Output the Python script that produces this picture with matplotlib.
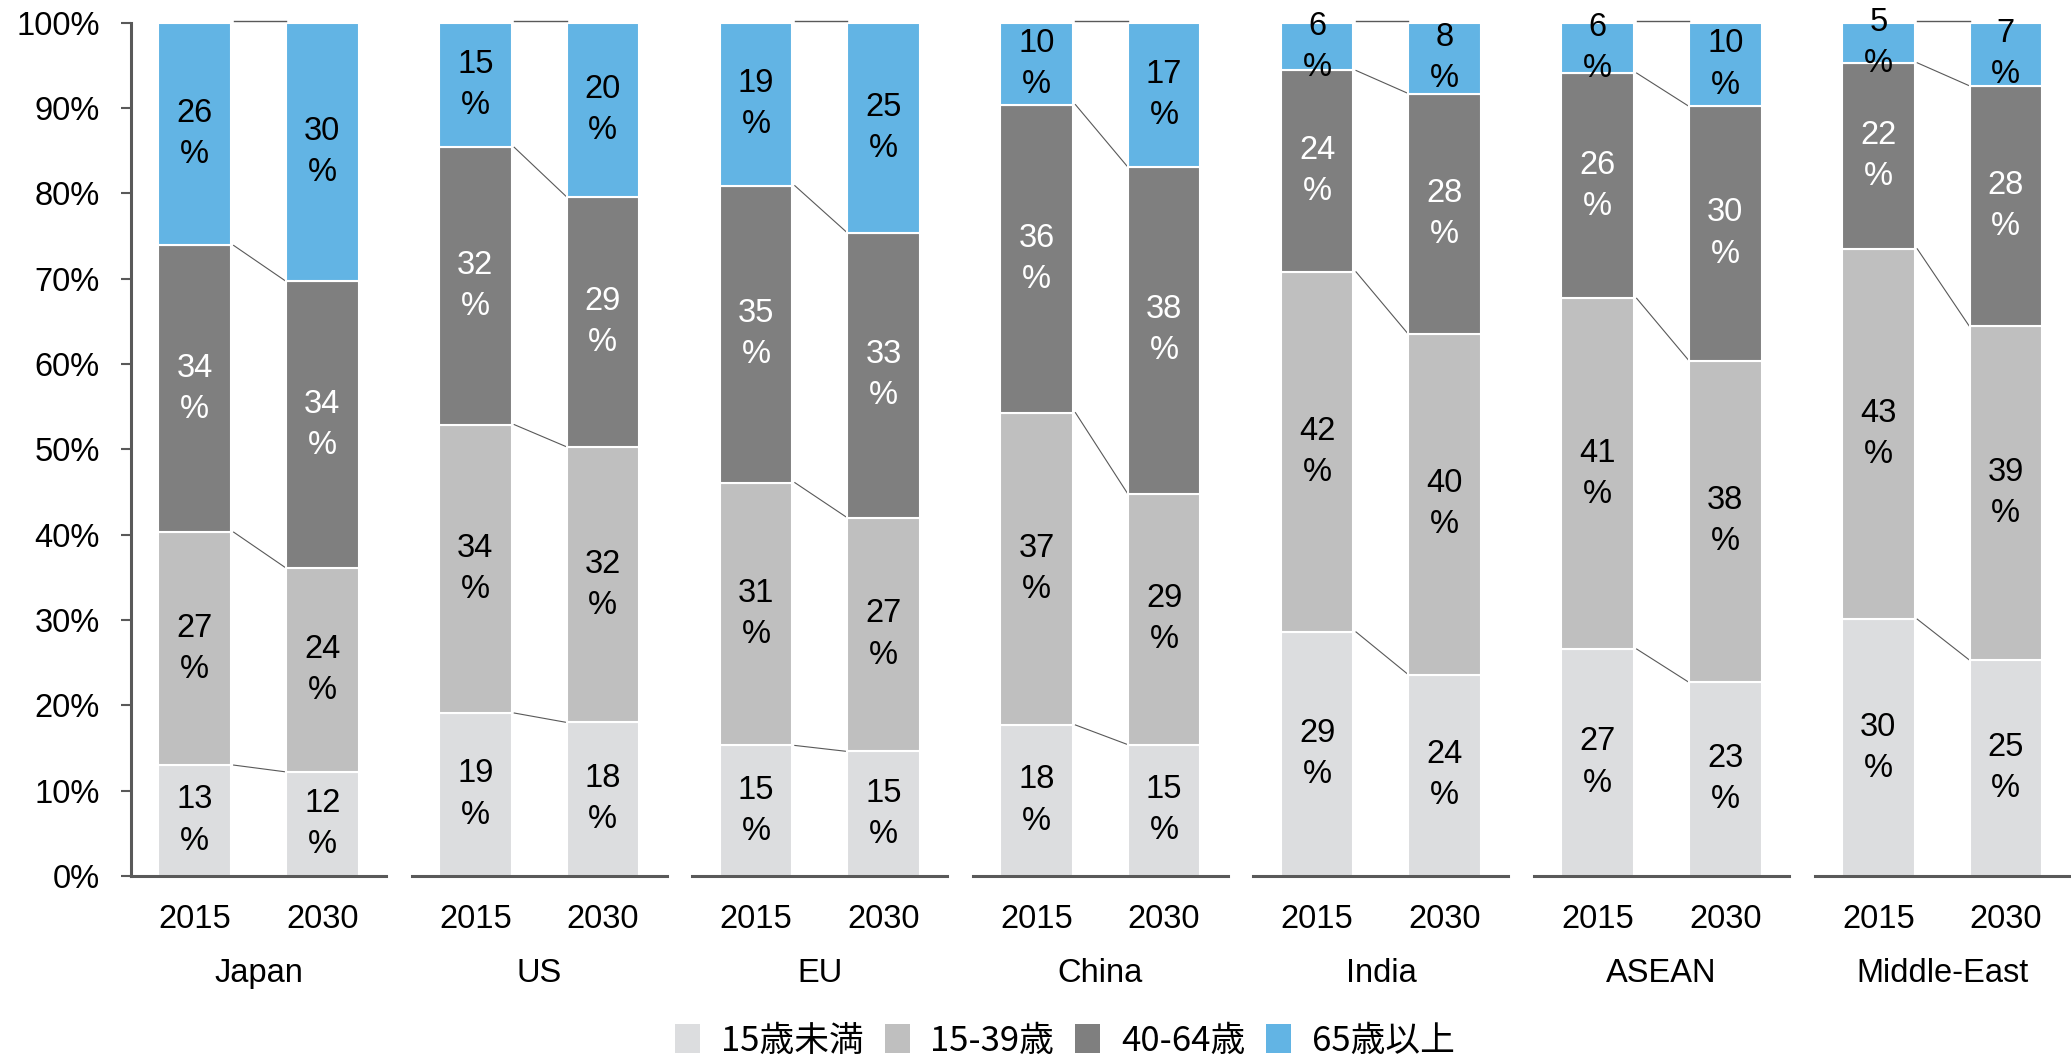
import matplotlib
matplotlib.use("Agg")
import matplotlib.pyplot as plt
from matplotlib.patches import Patch
from matplotlib.transforms import blended_transform_factory

plt.rcParams['font.family'] = ['Liberation Sans', 'DejaVu Sans']

regions = ['Japan', 'US', 'EU', 'China', 'India', 'ASEAN', 'Middle-East']
years = ['2015', '2030']
age_groups = ['15歳未満', '15-39歳', '40-64歳', '65歳以上']

# population share by age group (%), 2015
under15_2015 = [13.0, 19.1, 15.3, 17.7, 28.6, 26.6, 30.1]
age15_39_2015 = [27.3, 33.8, 30.8, 36.6, 42.2, 41.1, 43.4]
age40_64_2015 = [33.6, 32.5, 34.8, 36.1, 23.6, 26.4, 21.8]
over65_2015 = [26.1, 14.6, 19.1, 9.6, 5.6, 5.9, 4.7]

# population share by age group (%), 2030
under15_2030 = [12.2, 18.0, 14.6, 15.4, 23.6, 22.7, 25.3]
age15_39_2030 = [23.9, 32.3, 27.4, 29.4, 39.9, 37.7, 39.1]
age40_64_2030 = [33.6, 29.3, 33.4, 38.3, 28.2, 29.8, 28.2]
over65_2030 = [30.3, 20.4, 24.6, 16.9, 8.3, 9.8, 7.4]

series_2015 = [under15_2015, age15_39_2015, age40_64_2015, over65_2015]
series_2030 = [under15_2030, age15_39_2030, age40_64_2030, over65_2030]

colors = ['#dcdddf', '#bfbfbf', '#7f7f7f', '#62b4e4']
text_colors = ['black', 'black', 'white', 'black']
axis_color = '#595959'

W, H = 2071, 1058
fig = plt.figure(figsize=(W / 100, H / 100), dpi=100)

y_bottom_px, y_top_px = 876, 22.7
ax_bottom = (H - y_bottom_px) / H
ax_height = (y_bottom_px - y_top_px) / H
group_w = 255
first_left = 131
step = 280.6

x_pos = [0.5, 1.5]
bar_w = 0.57
fs = 23.5

year_baseline = (H - 928) / H
region_baseline = (H - 982) / H

for gi, region in enumerate(regions):
    left = (first_left + step * gi) / W
    ax = fig.add_axes([left, ax_bottom, group_w / W, ax_height])
    ax.set_xlim(0, 2)
    ax.set_ylim(0, 100)

    stacks = []
    for yi, series in enumerate([series_2015, series_2030]):
        bottom = 0.0
        bounds = []
        for si, s in enumerate(series):
            v = s[gi]
            ax.bar(x_pos[yi], v, width=bar_w, bottom=bottom, color=colors[si],
                   edgecolor='white', linewidth=1.5, zorder=2)
            ax.text(x_pos[yi], bottom + v / 2, f"{v:.0f}\n%", ha='center', va='center',
                    fontsize=fs, color=text_colors[si], linespacing=1.42,
                    zorder=4, clip_on=False)
            bottom += v
            bounds.append(bottom)
        stacks.append(bounds)

    # thin connectors between matching segment boundaries
    x0 = x_pos[0] + bar_w / 2 + 0.02
    x1 = x_pos[1] - bar_w / 2
    for b0, b1 in zip(stacks[0][:-1], stacks[1][:-1]):
        ax.plot([x0, x1], [b0, b1], color=axis_color, linewidth=0.8, zorder=1, clip_on=False)
    ax.plot([x0, x1], [100.2, 100.2], color=axis_color, linewidth=1.0, zorder=1, clip_on=False)

    for sp in ['top', 'right']:
        ax.spines[sp].set_visible(False)
    ax.spines['bottom'].set_color(axis_color)
    ax.spines['bottom'].set_linewidth(2.2)
    if gi == 0:
        ax.spines['left'].set_color(axis_color)
        ax.spines['left'].set_linewidth(2.2)
        ax.set_yticks(range(0, 101, 10))
        ax.set_yticklabels([f"{t}%" for t in range(0, 101, 10)], fontsize=fs)
        ax.tick_params(axis='y', length=7, width=1.5, color=axis_color, pad=15.5)
    else:
        ax.spines['left'].set_visible(False)
        ax.set_yticks([])

    ax.set_xticks([])
    trans = blended_transform_factory(ax.transData, fig.transFigure)
    for xp, yr in zip(x_pos, years):
        ax.text(xp, year_baseline, yr, transform=trans, ha='center', va='baseline',
                fontsize=fs)
    ax.text(1.0, region_baseline, region, transform=trans, ha='center', va='baseline',
            fontsize=fs)

handles = [Patch(facecolor=c, edgecolor='none') for c in colors]
fig.legend(handles, age_groups, loc='center', bbox_to_anchor=(1065 / W, (H - 1041) / H),
           ncol=4, frameon=False, handlelength=0.72, handleheight=0.9,
           handletextpad=0.6, columnspacing=0.6,
           prop={'family': ['Noto Sans CJK JP', 'DejaVu Sans'], 'size': 25})

fig.savefig('out.png', dpi=100)
